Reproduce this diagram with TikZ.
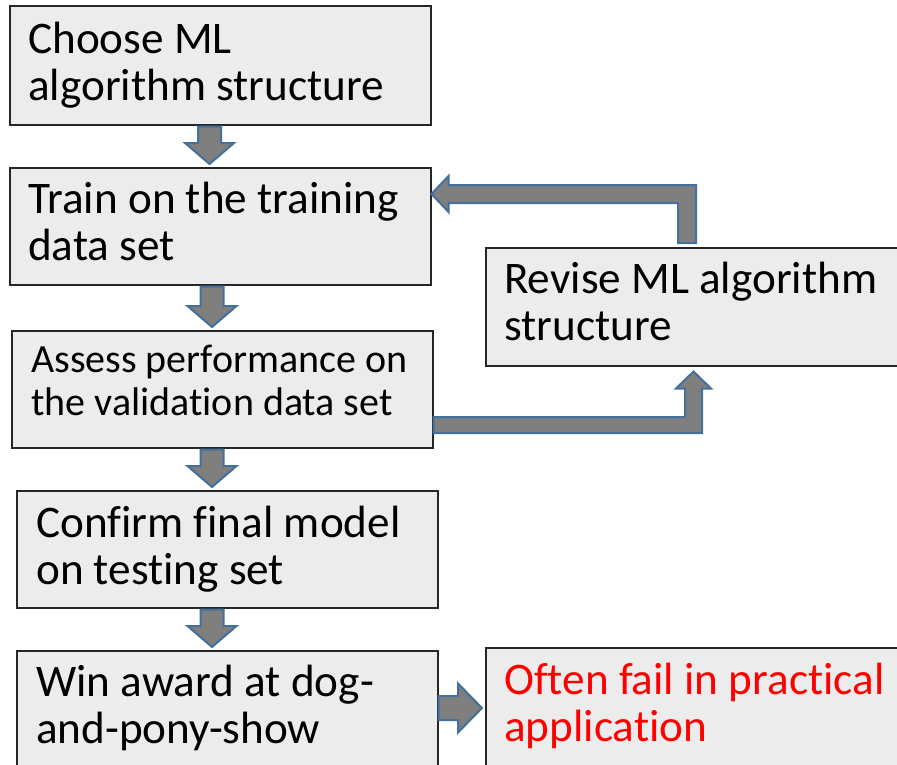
\documentclass[tikz,border=0pt]{standalone}
\usepackage{fontspec}
\setmainfont{Carlito}[Ligatures={TeX,NoCommon}]
\usetikzlibrary{calc}

\definecolor{boxfill}{RGB}{236,236,236}
\definecolor{arrowfill}{RGB}{127,127,127}
\definecolor{arrowline}{RGB}{65,113,156}

\tikzset{
  stepbox/.style={draw=black!85, line width=1.5pt, fill=boxfill, rectangle,
    inner sep=0pt, anchor=north west, minimum width=421pt},
  boxtext/.style={inner sep=0pt, anchor=base west, font=\fontsize{45.2}{47}\selectfont},
  smalltext/.style={boxtext, font=\fontsize{40}{43}\selectfont},
  blockarrow/.style={draw=arrowline, fill=arrowfill, line width=2pt, line join=miter},
}

% vertical block arrow between two stacked boxes:
% #1 upper node, #2 lower node, #3 centre offset from the upper node's west side
\newcommand\downblock[3]{%
  \coordinate (dtop) at ($(#1.south west)+(#3,1)$);
  \coordinate (dtip) at ($(dtop |- #2.north)+(0,-3)$);
  \draw[blockarrow] ($(dtop)+(-11.5,0)$) -- ($(dtip)+(-11.5,-21)$)
    -- ($(dtip)+(-24.5,-21)$) -- (dtip) -- ($(dtip)+(24.5,-21)$)
    -- ($(dtip)+(11.5,-21)$) -- ($(dtop)+(11.5,0)$) -- cycle;
}

\begin{document}
\begin{tikzpicture}[x=1pt, y=-1pt]
  \useasboundingbox (0,0) rectangle (897,764);
  \clip (0,0) rectangle (897,764);

  % process boxes
  \node[stepbox, minimum height=119pt] (b1) at (9,5) {};
  \node[stepbox, minimum height=117pt] (b2) at (9,167) {};
  \node[stepbox, minimum height=117pt] (b3) at (11,330) {};
  \node[stepbox, minimum height=117pt] (b4) at (16,490) {};
  \node[stepbox, minimum height=130pt] (b5) at (16,650) {};
  \node[stepbox, minimum height=118pt] (b6) at (485,247) {};
  \node[stepbox, minimum height=130pt] (b7) at (485,647) {};

  % box texts, placed by their first baseline
  \node[boxtext] (t1) at ($(b1.north west)+(19,48)$)
    {\parbox[t]{400pt}{Choose ML\\algorithm structure}};
  \node[boxtext] (t2) at ($(b2.north west)+(19,46)$)
    {\parbox[t]{400pt}{Train on the training\\data set}};
  \node[smalltext] (t3) at ($(b3.north west)+(20,42)$)
    {\parbox[t]{400pt}{Assess performance on\\the validation data set}};
  \node[boxtext] (t4) at ($(b4.north west)+(20,47)$)
    {\parbox[t]{400pt}{Confirm final model\\on testing set}};
  \node[boxtext] (t5) at ($(b5.north west)+(20,46)$)
    {\parbox[t]{400pt}{Win award at dog-\\and-pony-show}};
  \node[boxtext] (t6) at ($(b6.north west)+(19,46)$)
    {\parbox[t]{400pt}{Revise ML algorithm\\structure}};
  \node[boxtext, text=red] (t7) at ($(b7.north west)+(19,47)$)
    {\parbox[t]{400pt}{Often fail in practical\\application}};

  % main flow
  \downblock{b1}{b2}{200.5}
  \downblock{b2}{b3}{203}
  \downblock{b3}{b4}{201}
  \downblock{b4}{b5}{196}

  % assessment -> revision
  \coordinate (vs) at ($(b3.north east)+(0,95)$);
  \coordinate (vt) at ($(b6.south west)+(208.5,5)$);
  \draw[blockarrow] ($(vs)+(0,-8)$) -- ($(vt |- vs)+(-8.5,-8)$)
    -- ($(vt)+(-8.5,17)$) -- ($(vt)+(-17.5,17)$) -- (vt)
    -- ($(vt)+(17.5,17)$) -- ($(vt)+(8.5,17)$)
    -- ($(vt |- vs)+(8.5,8)$) -- ($(vs)+(0,8)$) -- cycle;

  % revision -> training
  \coordinate (fa) at ($(b6.north west)+(202,-4)$);
  \coordinate (fb) at ($(b2.north east)+(0,27)$);
  \draw[blockarrow] ($(fa)+(-9,0)$) -- ($(fa |- fb)+(-9,9)$)
    -- ($(fb)+(17,9)$) -- ($(fb)+(17,18)$) -- (fb)
    -- ($(fb)+(17,-18)$) -- ($(fb)+(17,-9)$)
    -- ($(fa |- fb)+(9,-9)$) -- ($(fa)+(9,0)$) -- cycle;

  % award -> practical failure
  \coordinate (rs) at ($(b5.north east)+(0,58)$);
  \coordinate (rt) at ($(b7.west |- rs)+(-3,0)$);
  \draw[blockarrow] ($(rs)+(0,-12)$) -- ($(rt)+(-24,-12)$)
    -- ($(rt)+(-24,-24.5)$) -- (rt) -- ($(rt)+(-24,24.5)$)
    -- ($(rt)+(-24,12)$) -- ($(rs)+(0,12)$) -- cycle;
\end{tikzpicture}
\end{document}
